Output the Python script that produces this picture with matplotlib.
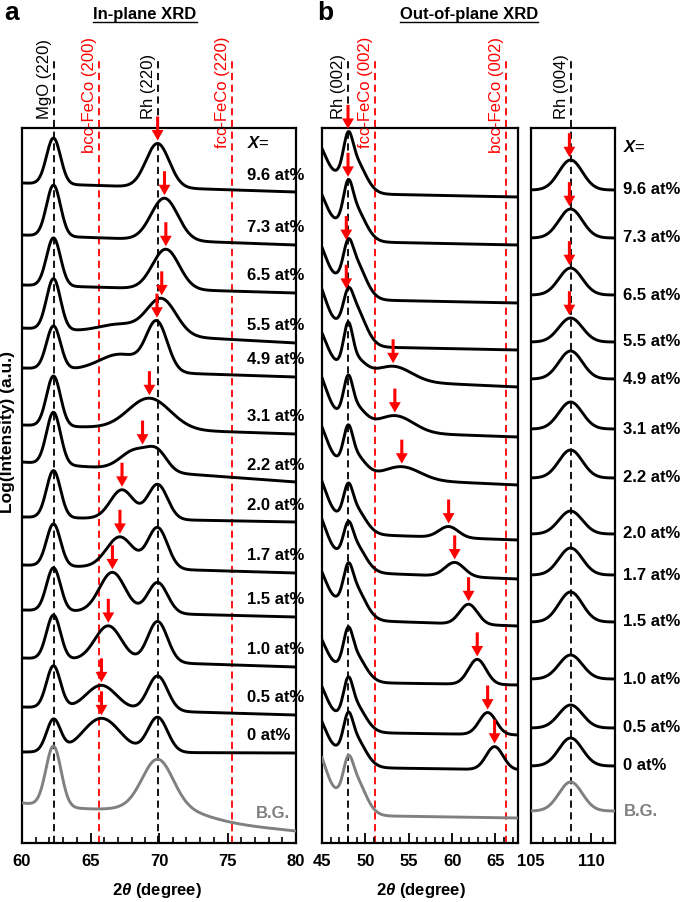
import numpy as np
import matplotlib.pyplot as plt
from matplotlib.lines import Line2D
from matplotlib.ticker import MultipleLocator
import matplotlib.transforms as mtransforms

plt.rcParams['font.family'] = ['Liberation Sans', 'DejaVu Sans']
plt.rcParams['mathtext.fontset'] = 'custom'
plt.rcParams['mathtext.rm'] = 'Liberation Sans:bold'
plt.rcParams['mathtext.it'] = 'Liberation Sans:italic:bold'
plt.rcParams['mathtext.bf'] = 'Liberation Sans:bold'

samples = ['9.6', '7.3', '6.5', '5.5', '4.9', '3.1', '2.2', '2.0', '1.7', '1.5', '1.0', '0.5', '0']

# (a) in-plane XRD, stacked log intensity (a.u.)
ip_base_lo = [660, 608, 558, 515, 475, 418, 381, 326, 278, 233, 185, 136, 91]
ip_base_hi = [651, 598, 550, 500, 466, 409, 361, 321, 270, 226, 176, 128, 90]
ip_mgo_h = [46, 51, 48, 51, 43, 50, 52, 47, 42, 43, 44, 42, 32]
ip_pk_pos = [69.9, 70.4, 70.5, 70.2, 69.85, 69.3, 68.3, 67.3, 67.15, 66.6, 66.3, 65.8, 65.8]
ip_pk_h = [44, 42, 40, 36, 48, 31, 20, 29, 31, 40, 35, 24, 34]
ip_pk_w = [2.0, 2.3, 2.3, 2.5, 1.8, 3.6, 2.5, 2.0, 2.3, 2.2, 2.3, 2.6, 3.2]
ip_rh_h = [0, 0, 0, 0, 0, 0, 17, 35, 41, 31, 41, 35, 35]
ip_sh_h = [0, 0, 0, 9, 17, 0, 0, 0, 0, 0, 0, 0, 0]
ip_arrow = [69.9, 70.4, 70.5, 70.2, 69.85, 69.3, 68.8, 67.3, 67.15, 66.6, 66.3, 65.8, 65.8]
ip_bg_base = [40, 12]
ip_bg_peaks = [(62.3, 60, 1.3), (69.9, 46, 2.6), (70.5, 12, 6.0)]

# (b) out-of-plane XRD around Rh(002)
op_base_lo = [650, 602, 544, 497, 465, 413, 367, 310, 272, 224, 161, 111, 76]
op_base_hi = [646, 598, 540, 493, 456, 406, 358, 303, 264, 217, 158, 108, 73]
op_tail_h = [55, 57, 64, 70, 56, 65, 61, 64, 64, 58, 52, 56, 56]
op_rh_h = [28, 28, 22, 19, 36, 31, 29, 24, 22, 24, 27, 27, 25]
op_sh_h = [36, 36, 41, 42, 21, 25, 24, 28, 30, 35, 30, 30, 32]
op_pk_pos = [53.0, 53.0, 53.0, 53.0, 53.2, 53.4, 54.2, 59.6, 60.3, 61.9, 62.9, 64.1, 64.9]
op_pk_h = [0, 0, 0, 0, 15, 17, 13, 11, 14, 20, 25, 22, 23]
op_pk_w = [5, 5, 5, 5, 5, 5, 5, 2.6, 2.6, 2.4, 2.4, 2.3, 2.3]
op_arrow = [48.0, 48.0, 47.8, 47.8, 53.2, 53.4, 54.2, 59.6, 60.3, 61.9, 62.9, 64.1, 64.9]
op_bg = [28, 25, 71, 22, 40]  # base lo, base hi, tail, Rh, shoulder

# (b) out-of-plane XRD around Rh(004)
rh4_base = [653, 605, 548, 501, 464, 414, 365, 309, 268, 221, 164, 115, 77]
rh4_h = [30, 29, 27, 24, 28, 27, 28, 23, 27, 30, 24, 23, 28]
rh4_arrow = [108.2, 108.2, 108.2, 108.2] + [np.nan] * 9
rh4_bg = [32, 29]


def gauss(x, pos, h, w):
    return h * np.exp(-4 * np.log(2) * ((x - pos) / w) ** 2)


def ramp(x, lo, hi):
    return lo + (hi - lo) * (x - x[0]) / (x[-1] - x[0])


fig = plt.figure(figsize=(6.85, 9.02), dpi=100)


def px_axes(l, t, r, b):
    return fig.add_axes([l / 685, 1 - b / 902, (r - l) / 685, (b - t) / 902])


ax_a = px_axes(22, 128, 296, 843)
ax_b = px_axes(322, 128, 518, 843)
ax_c = px_axes(531, 128, 615, 843)

xa = np.linspace(60, 80, 1000)
xb = np.linspace(45, 67.6, 1000)
xc = np.linspace(105, 112, 500)

LW = 2.1
GREY = '#808080'
RED = '#ff0000'

for ax, lims, major in [(ax_a, (60, 80), 5), (ax_b, (45, 67.6), 5), (ax_c, (105, 112), 5)]:
    ax.set_xlim(*lims)
    ax.set_ylim(0, 715)
    ax.set_yticks([])
    ax.xaxis.set_major_locator(MultipleLocator(major))
    ax.xaxis.set_minor_locator(MultipleLocator(1))
    ax.tick_params(axis='x', which='major', direction='in', length=7, width=1.3,
                   labelsize=12, pad=8)
    ax.tick_params(axis='x', which='minor', direction='in', length=4, width=1.2)
    for lab in ax.get_xticklabels():
        lab.set_fontweight('bold')
    for sp in ax.spines.values():
        sp.set_linewidth(1.6)


def arrow(ax, x, y):
    ax.annotate('', xy=(x, y + 3), xytext=(x, y + 27), annotation_clip=False,
                arrowprops=dict(facecolor=RED, edgecolor=RED, width=2.2, headwidth=8.5,
                                headlength=7.5, shrink=0, lw=0), zorder=5)


def ref_line(ax, x, text, color, top):
    ax.plot([x, x], [0, 785], ls='--', dashes=(4, 2.5), color=color, lw=1.3,
            clip_on=False, zorder=1)
    tr = mtransforms.offset_copy(ax.transData, fig=fig, x=-2, y=0, units='dots')
    if top:
        ax.text(x, 806, text, color=color, rotation=90, ha='right', va='top',
                fontsize=12, transform=tr, clip_on=False)
    else:
        ax.text(x, 724, text, color=color, rotation=90, ha='right', va='bottom',
                fontsize=12, transform=tr, clip_on=False)


# panel a
ref_line(ax_a, 62.3, 'MgO (220)', 'k', False)
ref_line(ax_a, 65.6, 'bcc-FeCo (200)', RED, True)
ref_line(ax_a, 69.9, 'Rh (220)', 'k', False)
ref_line(ax_a, 75.3, 'fcc-FeCo (220)', RED, True)

for i, s in enumerate(samples):
    y = (ramp(xa, ip_base_lo[i], ip_base_hi[i]) + gauss(xa, 62.3, ip_mgo_h[i], 1.2)
         + gauss(xa, ip_pk_pos[i], ip_pk_h[i], ip_pk_w[i])
         + gauss(xa, 69.9, ip_rh_h[i], 1.7) + gauss(xa, 67.2, ip_sh_h[i], 3.6))
    ax_a.plot(xa, y, color='k', lw=LW, zorder=3)
    arrow(ax_a, ip_arrow[i], np.interp(ip_arrow[i], xa, y))
    ax_a.text(76.4, y[-1] + 17, s + ' at%', fontsize=12, fontweight='bold',
              va='center', ha='left', clip_on=False)

y = ramp(xa, *ip_bg_base)
for p in ip_bg_peaks:
    y = y + gauss(xa, *p)
ax_a.plot(xa, y, color=GREY, lw=LW, zorder=3)
ax_a.text(77.1, y[-1] + 17, 'B.G.', color=GREY, fontsize=12, fontweight='bold',
          va='center', ha='left')
ax_a.text(76.4, 700, '$X$=', fontsize=12, va='center', ha='left')

# panel b, left
ref_line(ax_b, 48.0, 'Rh (002)', 'k', False)
ref_line(ax_b, 51.1, 'fcc-FeCo (002)', RED, True)
ref_line(ax_b, 66.2, 'bcc-FeCo (002)', RED, True)


def op_curve(lo, hi, tail, rh, sh, pos=60, h=0, w=3):
    return (ramp(xb, lo, hi) + gauss(xb, 44.0, tail, 3.5) + gauss(xb, 48.0, rh, 1.2)
            + gauss(xb, 48.6, sh, 3.0) + gauss(xb, pos, h, w))


for i in range(len(samples)):
    y = op_curve(op_base_lo[i], op_base_hi[i], op_tail_h[i], op_rh_h[i], op_sh_h[i],
                 op_pk_pos[i], op_pk_h[i], op_pk_w[i])
    ax_b.plot(xb, y, color='k', lw=LW, zorder=3)
    arrow(ax_b, op_arrow[i], np.interp(op_arrow[i], xb, y))
ax_b.plot(xb, op_curve(*op_bg), color=GREY, lw=LW, zorder=3)

# panel b, right
ref_line(ax_c, 108.3, 'Rh (004)', 'k', False)
for i, s in enumerate(samples):
    y = np.full_like(xc, rh4_base[i]) + gauss(xc, 108.3, rh4_h[i], 2.3)
    ax_c.plot(xc, y, color='k', lw=LW, zorder=3)
    if not np.isnan(rh4_arrow[i]):
        arrow(ax_c, rh4_arrow[i], np.interp(rh4_arrow[i], xc, y))
    ax_c.text(112.7, rh4_base[i], s + ' at%', fontsize=12, fontweight='bold',
              va='center', ha='left', clip_on=False)
y = np.full_like(xc, rh4_bg[0]) + gauss(xc, 108.3, rh4_bg[1], 2.3)
ax_c.plot(xc, y, color=GREY, lw=LW, zorder=3)
ax_c.text(112.7, rh4_bg[0], 'B.G.', color=GREY, fontsize=12, fontweight='bold',
          va='center', ha='left', clip_on=False)
ax_c.text(112.7, 696, '$X$=', fontsize=12, va='center', ha='left', clip_on=False)

# figure-level text
fig.text(4 / 685, 1 - 1 / 902, 'a', fontsize=19, fontweight='bold', va='top')
fig.text(317 / 685, 1 - 1 / 902, 'b', fontsize=19, fontweight='bold', va='top')
titles = [fig.text(145 / 685, 1 - 14 / 902, 'In-plane XRD', fontsize=12,
                   fontweight='bold', ha='center', va='center'),
          fig.text(469 / 685, 1 - 14 / 902, 'Out-of-plane XRD', fontsize=12,
                   fontweight='bold', ha='center', va='center')]
fig.text(8 / 685, 1 - 432 / 902, 'Log(Intensity) (a.u.)', fontsize=12.5,
         fontweight='bold', rotation=90, ha='center', va='center')
fig.text(157 / 685, 1 - 890 / 902, r'2$\theta$ (degree)', fontsize=12,
         fontweight='bold', ha='center', va='center')
fig.text(421 / 685, 1 - 890 / 902, r'2$\theta$ (degree)', fontsize=12,
         fontweight='bold', ha='center', va='center')

renderer = fig.canvas.get_renderer()
for t in titles:
    bb = t.get_window_extent(renderer)
    fig.add_artist(Line2D([bb.x0, bb.x1], [bb.y0 - 0.5, bb.y0 - 0.5], color='k',
                          lw=1.0, transform=None))

fig.savefig('out.png', dpi=100)
